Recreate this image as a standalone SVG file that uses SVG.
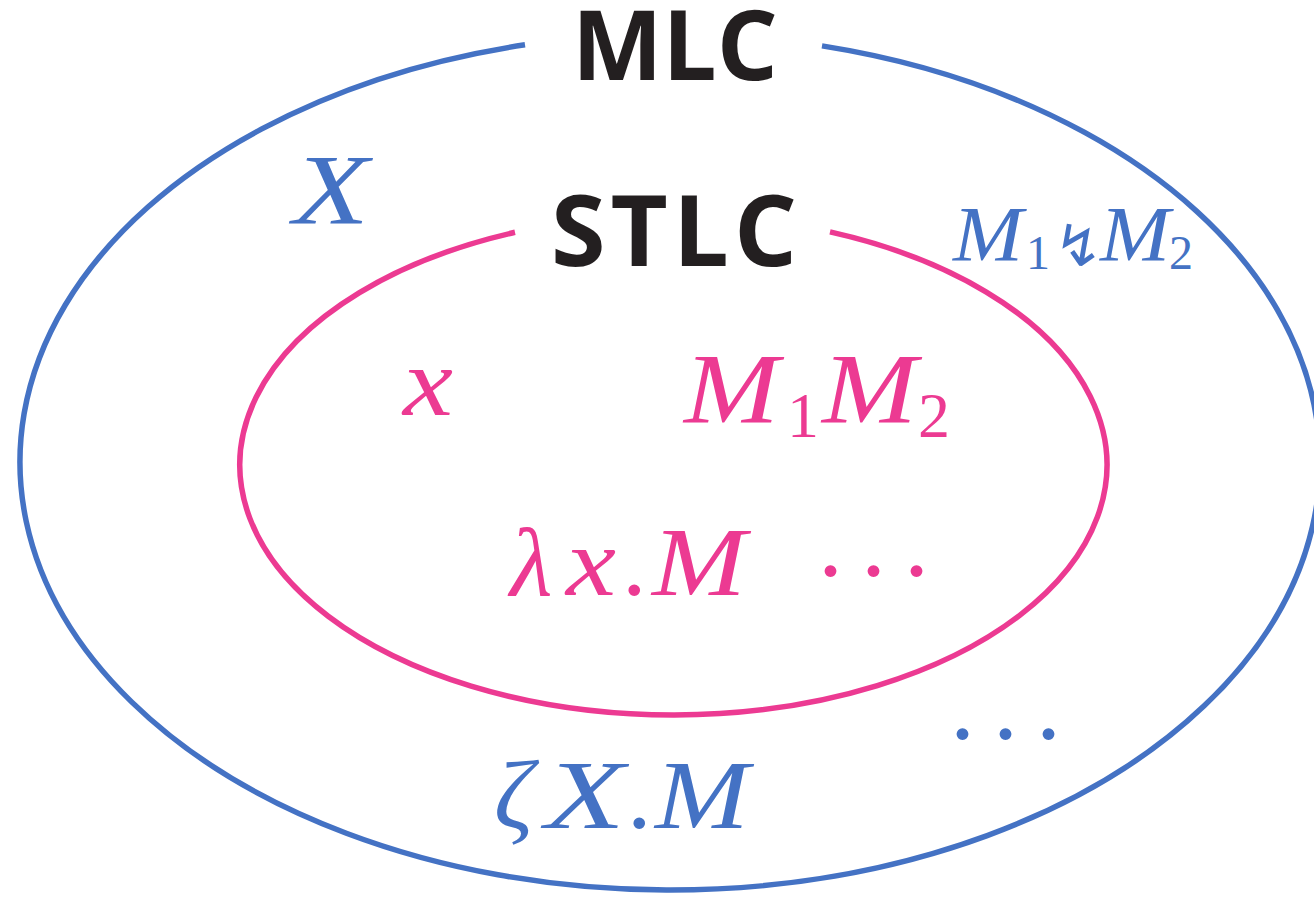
<svg xmlns="http://www.w3.org/2000/svg" width="1314" height="899" viewBox="0 0 1314 899">
<style>
.blue{fill:none;stroke:#4472C4;stroke-width:5.5}
.pink{fill:none;stroke:#EC3A92;stroke-width:5.5}
.title{font-family:"Open Sans","Noto Sans",sans-serif;font-weight:bold;fill:#231F20}
.m{font-family:"Liberation Serif","DejaVu Serif",serif;font-style:italic}
.r{font-family:"Liberation Serif","DejaVu Serif",serif;font-style:normal}
.tb{fill:#4472C4}
.tp{fill:#EC3A92}
</style>
<rect width="1314" height="899" fill="#fff"/>
<g id="connectors"></g>
<g id="mlc">
<path class="blue" d="M 822 45.9 A 650 428 0 1 1 525 44.8"/>
<text class="title" x="572" y="80" font-size="96" textLength="206" lengthAdjust="spacing">MLC</text>
<text class="m tb" x="293" y="223" font-size="100" textLength="76" lengthAdjust="spacingAndGlyphs">X</text>
<text class="tb" y="260" font-size="78"><tspan class="m" x="953" textLength="70" lengthAdjust="spacingAndGlyphs">M</tspan><tspan class="r" x="1026" font-size="48" y="269">1</tspan><tspan font-family="DejaVu Sans,sans-serif" x="1054" y="266" font-size="58">↯</tspan><tspan class="m" x="1100" y="260" textLength="70" lengthAdjust="spacingAndGlyphs">M</tspan><tspan class="r" x="1169" font-size="48" y="269">2</tspan></text>
<text class="tb" y="828" font-size="98"><tspan class="m" x="494">ζ</tspan><tspan class="m" x="545" textLength="80" lengthAdjust="spacingAndGlyphs">X</tspan><tspan class="r" x="627">.</tspan><tspan class="m" x="655" textLength="94" lengthAdjust="spacingAndGlyphs">M</tspan></text>
<text class="r tb" x="950" y="739" font-size="100" letter-spacing="18">...</text>
</g>
<g id="stlc">
<path class="pink" d="M 830 231.9 A 433.5 250 0 1 1 515 232.3"/>
<text class="title" x="551" y="266" font-size="99" textLength="246" lengthAdjust="spacing">STLC</text>
<text class="m tp" x="403" y="415" font-size="98" textLength="50" lengthAdjust="spacingAndGlyphs">x</text>
<text class="tp" y="422" font-size="100"><tspan class="m" x="684" textLength="95" lengthAdjust="spacingAndGlyphs">M</tspan><tspan class="r" x="787" font-size="64" y="437">1</tspan><tspan class="m" x="822" y="422" textLength="95" lengthAdjust="spacingAndGlyphs">M</tspan><tspan class="r" x="918" font-size="64" y="437">2</tspan></text>
<text class="tp" y="595" font-size="98"><tspan class="m" x="510">λ</tspan><tspan class="m" x="566" textLength="50" lengthAdjust="spacingAndGlyphs">x</tspan><tspan class="r" x="622">.</tspan><tspan class="m" x="652" textLength="94" lengthAdjust="spacingAndGlyphs">M</tspan></text>
<text class="r tp" x="818" y="576" font-size="100" letter-spacing="18">...</text>
</g>
</svg>
